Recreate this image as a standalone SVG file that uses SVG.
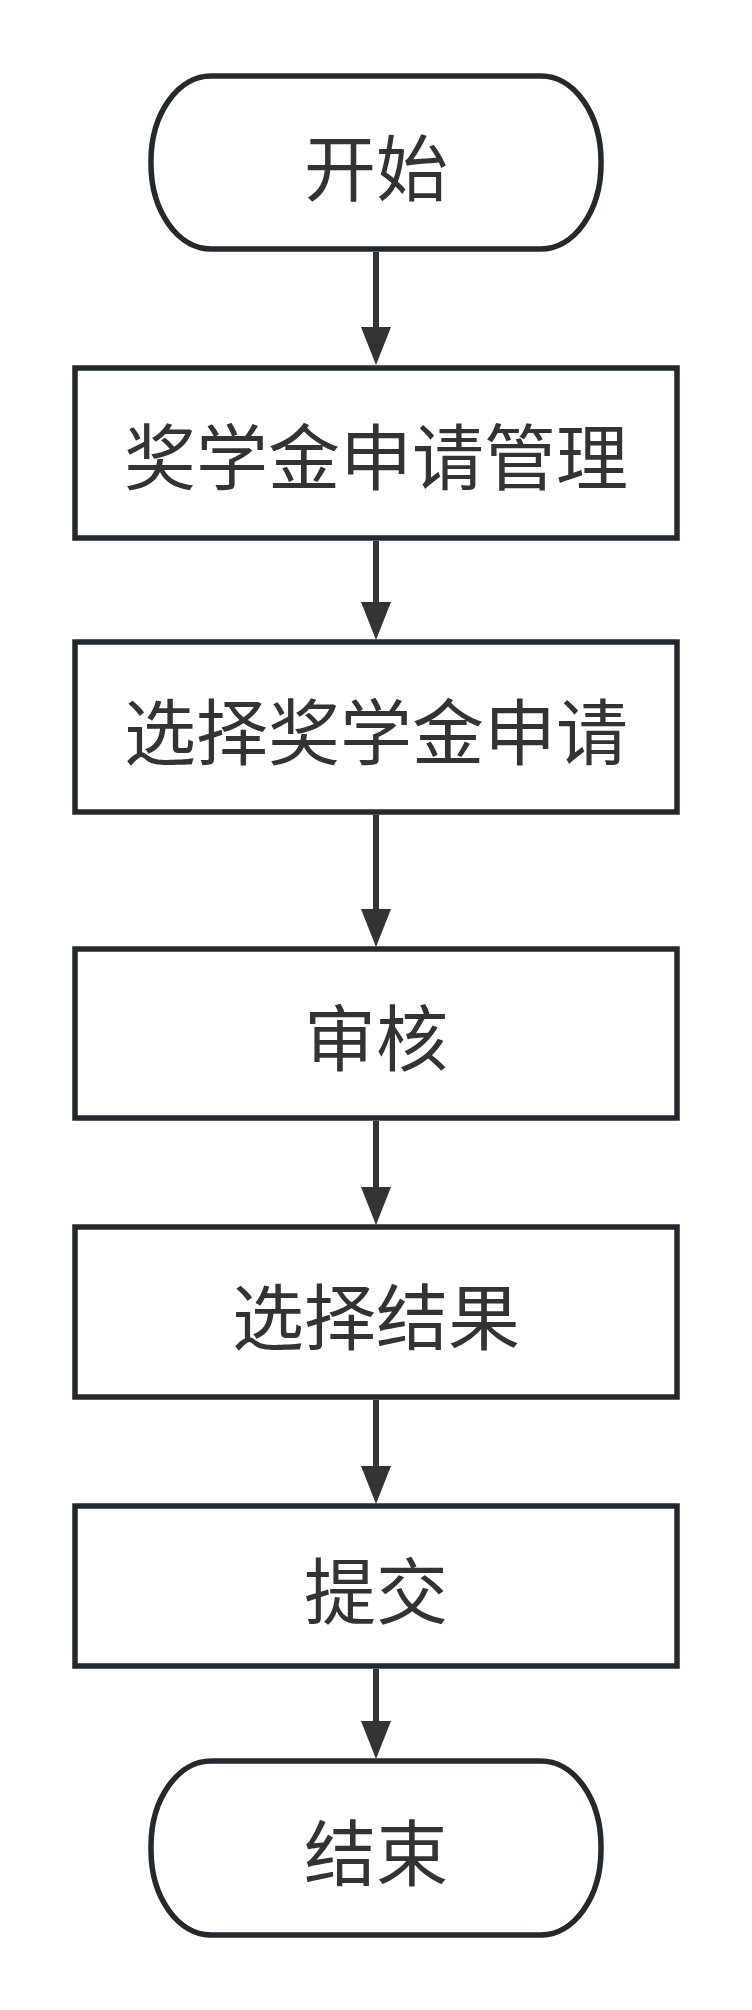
<svg xmlns="http://www.w3.org/2000/svg" width="752" height="2010" viewBox="0 0 752 2010">
<style>
.node{fill:#ffffff;stroke:#24292e;stroke-width:5.5}
.lbl{font-family:"Noto Sans CJK SC","Noto Sans",sans-serif;font-size:72px;fill:#333333;text-anchor:middle;dominant-baseline:central}
.edge{stroke:#333333;stroke-width:6;fill:none}
</style>
<defs>
<marker id="arr" viewBox="0 0 38 30" refX="0" refY="15" markerWidth="38" markerHeight="30" markerUnits="userSpaceOnUse" orient="auto">
<path d="M0,0 L38,15 L0,30 z" fill="#333333"/>
</marker>
</defs>
<rect width="752" height="2010" fill="#ffffff"/>
<g id="connectors">
<path class="edge" d="M376,252 V327" marker-end="url(#arr)"/>
<path class="edge" d="M376,541 V602" marker-end="url(#arr)"/>
<path class="edge" d="M376,815 V909" marker-end="url(#arr)"/>
<path class="edge" d="M376,1121 V1187" marker-end="url(#arr)"/>
<path class="edge" d="M376,1400 V1466" marker-end="url(#arr)"/>
<path class="edge" d="M376,1669 V1721" marker-end="url(#arr)"/>
</g>
<g id="start">
<rect class="node" x="151" y="76" width="450" height="173" rx="60" ry="85"/>
<text class="lbl" x="376" y="163">开始</text>
</g>
<g id="n1">
<rect class="node" x="75" y="368" width="602" height="170"/>
<text class="lbl" x="376" y="452">奖学金申请管理</text>
</g>
<g id="n2">
<rect class="node" x="75" y="642" width="602" height="170"/>
<text class="lbl" x="376" y="727">选择奖学金申请</text>
</g>
<g id="n3">
<rect class="node" x="75" y="949" width="602" height="169"/>
<text class="lbl" x="376" y="1033">审核</text>
</g>
<g id="n4">
<rect class="node" x="75" y="1227" width="602" height="170"/>
<text class="lbl" x="376" y="1312">选择结果</text>
</g>
<g id="n5">
<rect class="node" x="75" y="1506" width="602" height="160"/>
<text class="lbl" x="376" y="1586">提交</text>
</g>
<g id="end">
<rect class="node" x="151" y="1761" width="450" height="174" rx="60" ry="85"/>
<text class="lbl" x="376" y="1848">结束</text>
</g>
</svg>
